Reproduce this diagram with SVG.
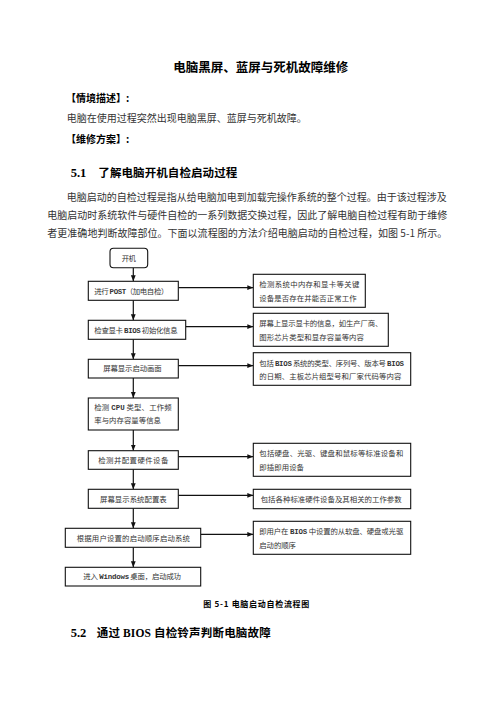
<svg xmlns="http://www.w3.org/2000/svg" width="496" height="702" viewBox="0 0 496 702">
<style>
text{font-family:"Noto Sans CJK SC","Liberation Sans",sans-serif;fill:#222}
.h{font-weight:bold;fill:#000}
.title{font-size:12.5px}
.tag{font-size:10px}
.body{font-size:10px;fill:#333}
.sec{font-size:11.5px}
.num{font-family:"Liberation Serif",serif;font-size:12.5px;font-weight:bold;fill:#000}
.cap{font-size:8px}
.fc{font-size:7.4px;fill:#333}
.m{font-family:"Liberation Mono",monospace;font-weight:bold}
.box{fill:#fff;stroke:#111;stroke-width:1.1}
.con line{stroke:#111;stroke-width:1.2;marker-end:url(#ah)}
</style>
<defs>
<marker id="ah" markerWidth="6" markerHeight="6" refX="6" refY="3" orient="auto" markerUnits="userSpaceOnUse"><path d="M0,0.6 L6,3 L0,5.4 z" fill="#111"/></marker>
</defs>
<rect width="496" height="702" fill="#fff"/>

<text class="h title" x="173.3" y="71.7" textLength="175" lengthAdjust="spacing">电脑黑屏、蓝屏与死机故障维修</text>
<text class="h tag" x="66" y="101.8">【情境描述】:</text>
<text class="body" x="66.7" y="121.8">电脑在使用过程突然出现电脑黑屏、蓝屏与死机故障。</text>
<text class="h tag" x="66" y="142.8">【维修方案】:</text>
<text class="num" x="70.7" y="177.4">5.1</text>
<text class="h sec" x="98.3" y="177.4" textLength="139" lengthAdjust="spacing">了解电脑开机自检启动过程</text>
<text class="body" x="66.7" y="200.8" textLength="380" lengthAdjust="spacing">电脑启动的自检过程是指从给电脑加电到加载完操作系统的整个过程。由于该过程涉及</text>
<text class="body" x="47.3" y="218.8" textLength="400" lengthAdjust="spacing">电脑启动时系统软件与硬件自检的一系列数据交换过程，因此了解电脑自检过程有助于维修</text>
<text class="body" x="47.3" y="236.8" textLength="400" lengthAdjust="spacing">者更准确地判断故障部位。下面以流程图的方法介绍电脑启动的自检过程，如图 5-1 所示。</text>

<g class="con" id="connectors">
<line x1="133.3" y1="267.7" x2="133.3" y2="281.3"/>
<line x1="133.3" y1="300.3" x2="133.3" y2="320.3"/>
<line x1="133.3" y1="339.3" x2="133.3" y2="359.3"/>
<line x1="133.3" y1="378" x2="133.3" y2="398"/>
<line x1="133.3" y1="430" x2="133.3" y2="450.7"/>
<line x1="133.3" y1="469.3" x2="133.3" y2="489.3"/>
<line x1="133.3" y1="508.3" x2="133.3" y2="528.3"/>
<line x1="133.3" y1="547.3" x2="133.3" y2="567.3"/>
<line x1="178.3" y1="287.7" x2="253.3" y2="287.7"/>
<line x1="185.7" y1="326.7" x2="253.3" y2="326.7"/>
<line x1="178.3" y1="365.7" x2="253.3" y2="365.7"/>
<line x1="178.3" y1="456.7" x2="253.3" y2="456.7"/>
<line x1="178.3" y1="495.3" x2="253.3" y2="495.3"/>
<line x1="200.7" y1="534.3" x2="253.3" y2="534.3"/>
</g>

<g id="n-start"><rect class="box" x="110" y="248.3" width="37.7" height="19.4" rx="3.5"/><text class="fc" x="121.7" y="260.8" textLength="14.3" lengthAdjust="spacing">开机</text></g>
<g id="n-post"><rect class="box" x="88.3" y="281.3" width="90" height="19"/><text class="fc" x="94.3" y="293.6" textLength="74" lengthAdjust="spacing">进行 <tspan class="m">POST</tspan>（加电自检）</text></g>
<g id="n-bios"><rect class="box" x="88.3" y="320.3" width="97.4" height="19"/><text class="fc" x="94.3" y="332.6" textLength="83.3" lengthAdjust="spacing">检查显卡 <tspan class="m">BIOS</tspan> 初始化信息</text></g>
<g id="n-screen"><rect class="box" x="88.3" y="359.3" width="90" height="18.7"/><text class="fc" x="103.3" y="371.4" textLength="58.3" lengthAdjust="spacing">屏幕显示启动画面</text></g>
<g id="n-cpu"><rect class="box" x="88.3" y="398" width="90" height="32"/><text class="fc" x="94.3" y="410.1" textLength="77.3" lengthAdjust="spacing">检测 <tspan class="m">CPU</tspan> 类型、工作频</text><text class="fc" x="94.3" y="423.1" textLength="66.7" lengthAdjust="spacing">率与内存容量等信息</text></g>
<g id="n-hw"><rect class="box" x="88.3" y="450.7" width="90" height="18.6"/><text class="fc" x="98.3" y="462.8" textLength="70" lengthAdjust="spacing">检测并配置硬件设备</text></g>
<g id="n-cfg"><rect class="box" x="88.3" y="489.3" width="90" height="19"/><text class="fc" x="100" y="501.6" textLength="66.7" lengthAdjust="spacing">屏幕显示系统配置表</text></g>
<g id="n-boot"><rect class="box" x="65.3" y="528.3" width="135.4" height="19"/><text class="fc" x="76.7" y="540.6" textLength="113.3" lengthAdjust="spacing">根据用户设置的启动顺序启动系统</text></g>
<g id="n-win"><rect class="box" x="65.3" y="567.3" width="135.4" height="18.7"/><text class="fc" x="83.3" y="579.4" textLength="97.7" lengthAdjust="spacing">进入 <tspan class="m">Windows</tspan> 桌面，启动成功</text></g>

<g id="r-post"><rect class="box" x="253.3" y="274.3" width="112" height="33"/><text class="fc" x="259.3" y="287.1" textLength="100" lengthAdjust="spacing">检测系统中内存和显卡等关键</text><text class="fc" x="259.3" y="300.6" textLength="97.3" lengthAdjust="spacing">设备是否存在并能否正常工作</text></g>
<g id="r-bios"><rect class="box" x="253.3" y="313.3" width="135" height="33"/><text class="fc" x="259.3" y="326.1" textLength="123" lengthAdjust="spacing">屏幕上显示显卡的信息，如生产厂商、</text><text class="fc" x="259.3" y="339.6" textLength="104.7" lengthAdjust="spacing">图形芯片类型和显存容量等内容</text></g>
<g id="r-screen"><rect class="box" x="253.3" y="352.7" width="157.4" height="32.6"/><text class="fc" x="259.3" y="365.5" textLength="144.7" lengthAdjust="spacing">包括 <tspan class="m">BIOS</tspan> 系统的类型、序列号、版本号 <tspan class="m">BIOS</tspan></text><text class="fc" x="259.3" y="379" textLength="142" lengthAdjust="spacing">的日期、主板芯片组型号和厂家代码等内容</text></g>
<g id="r-hw"><rect class="box" x="253.3" y="443.3" width="157.4" height="33"/><text class="fc" x="259.3" y="456.1" textLength="144" lengthAdjust="spacing">包括硬盘、光驱、键盘和鼠标等标准设备和</text><text class="fc" x="259.3" y="469.6" textLength="44.7" lengthAdjust="spacing">即插即用设备</text></g>
<g id="r-cfg"><rect class="box" x="253.3" y="489.3" width="157.4" height="19.4"/><text class="fc" x="260.7" y="501.7" textLength="141" lengthAdjust="spacing">包括各种标准硬件设备及其相关的工作参数</text></g>
<g id="r-boot"><rect class="box" x="253.3" y="521.3" width="157.4" height="33"/><text class="fc" x="259.3" y="534.1" textLength="144" lengthAdjust="spacing">即用户在 <tspan class="m">BIOS</tspan> 中设置的从软盘、硬盘或光驱</text><text class="fc" x="259.3" y="547.6" textLength="36.7" lengthAdjust="spacing">启动的顺序</text></g>

<text class="h cap" x="203.3" y="607" textLength="106" lengthAdjust="spacing">图 5-1  电脑启动自检流程图</text>
<text class="num" x="70.7" y="637.4">5.2</text>
<text class="h sec" x="96.7" y="637.4" textLength="174" lengthAdjust="spacing">通过 <tspan font-family="Liberation Serif">BIOS</tspan> 自检铃声判断电脑故障</text>
</svg>
